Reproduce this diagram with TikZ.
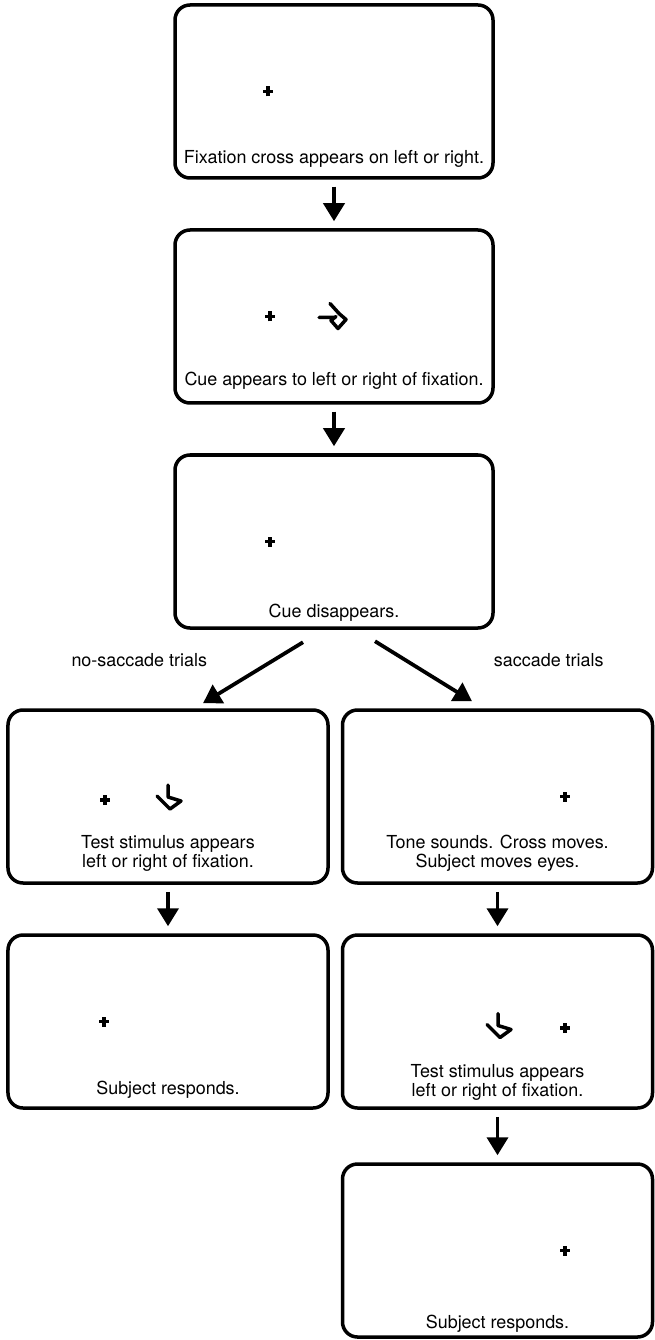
\documentclass[tikz,border=0pt]{standalone}
\usepackage{fontspec}
\setmainfont{TeX Gyre Heros}
\usepackage{tikz}
\usetikzlibrary{shapes,arrows,arrows.meta,positioning}
\tikzstyle{line} = [draw, line width=0.075cm, -{Triangle[width=0.42cm, length=0.36cm]}]
\tikzstyle{screen} = [rectangle, draw, rounded corners=0.3cm, line width=0.07cm, minimum width=6.36cm, minimum height=3.46cm, node distance=4.5cm]
\tikzstyle{caption} = [anchor=south, inner sep=0pt, align=center, font=\fontsize{10.2}{10.7}\selectfont]
\tikzstyle{tag} = [inner sep=0pt, font=\fontsize{10.2}{10.7}\selectfont]
\tikzstyle{fixcross} = [draw, line width=0.065cm]
\tikzstyle{glyph} = [draw, line width=0.07cm, line join=round, line cap=round]
% fixation cross at a named coordinate
\newcommand{\fixmark}[1]{\draw [fixcross] ([xshift=-0.1cm]#1) -- ([xshift=0.1cm]#1) ([yshift=-0.1cm]#1) -- ([yshift=0.1cm]#1);}
% test stimulus
\newcommand{\stimb}[1]{\draw [glyph, shift={(#1)}, x=0.02cm, y=-0.02cm] (-1,-13) -- (-1,-1) -- (12,3) -- (1,11) -- (-12,-2);}

\begin{document}
\begin{tikzpicture}
		\useasboundingbox (0,0) rectangle (13.08,-26.8);
		\node [screen] (fix) at (6.68,-1.83) {};
		\node [screen, below of=fix] (cue) {};
		\node [screen, below of=cue] (gone) {};
		
		\node [screen, below of=gone, node distance=5.1cm, xshift=-3.32cm, minimum width=6.4cm] (ns_test) {};
		\node [screen, right of=ns_test, node distance=6.59cm, minimum width=6.2cm] (s_tone) {};
		\node [screen, below of=ns_test, minimum width=6.4cm] (ns_resp) {};
		\node [screen, below of=s_tone, minimum width=6.2cm] (s_test) {};
		\node [screen, below of=s_test, node distance=4.58cm, minimum width=6.2cm] (s_resp) {};
		
		\node [caption] at ([yshift=0.24cm]fix.south) {Fixation cross appears on left or right.};
		\node [caption] at ([yshift=0.3cm]cue.south) {Cue appears to left or right of fixation.};
		\node [caption] at ([yshift=0.16cm]gone.south) {Cue disappears.};
		\node [caption] at ([yshift=0.26cm]ns_test.south) {Test stimulus appears\\left or right of fixation.};
		\node [caption] at ([yshift=0.26cm]s_tone.south) {Tone sounds. Cross moves.\\Subject moves eyes.};
		\node [caption] at ([yshift=0.22cm]ns_resp.south) {Subject responds.};
		\node [caption] at ([yshift=0.18cm]s_test.south) {Test stimulus appears\\left or right of fixation.};
		\node [caption] at ([yshift=0.12cm]s_resp.south) {Subject responds.};
		
		\coordinate (fix_x) at ([xshift=-1.32cm]fix.center);
		\coordinate (cue_x) at ([xshift=-1.28cm]cue.center);
		\coordinate (gone_x) at ([xshift=-1.28cm]gone.center);
		\coordinate (ns_test_x) at ([xshift=-1.26cm, yshift=-0.07cm]ns_test.center);
		\coordinate (s_tone_x) at ([xshift=1.35cm]s_tone.center);
		\coordinate (ns_resp_x) at ([xshift=-1.28cm]ns_resp.center);
		\coordinate (s_test_x) at ([xshift=1.35cm, yshift=-0.13cm]s_test.center);
		\coordinate (s_resp_x) at ([xshift=1.35cm]s_resp.center);
		\fixmark{fix_x}
		\fixmark{cue_x}
		\fixmark{gone_x}
		\fixmark{ns_test_x}
		\fixmark{s_tone_x}
		\fixmark{ns_resp_x}
		\fixmark{s_test_x}
		\fixmark{s_resp_x}
		
		\coordinate (ns_test_b) at ([xshift=0.02cm, yshift=-0.03cm]ns_test.center);
		\coordinate (s_test_b) at ([xshift=0.03cm, yshift=-0.1cm]s_test.center);
		\stimb{ns_test_b}
		\stimb{s_test_b}
		\draw [glyph, shift={(cue.center)}, x=0.02cm, y=-0.02cm] (-4,-13) -- (5,-3) -- (12,3) -- (4,12) -- (-3,4) -- (2,0) (-15,1) -- (1,1);
		
		\path [line, shorten <=0.14cm, shorten >=0.14cm] (fix.south) to (cue.north);
		\path [line, shorten <=0.14cm, shorten >=0.14cm] (cue.south) to (gone.north);
		\path [line] ([xshift=-0.62cm, yshift=-0.25cm]gone.south) to ([xshift=0.7cm, yshift=0.1cm]ns_test.north);
		\path [line] ([xshift=0.82cm, yshift=-0.23cm]gone.south) to ([xshift=-0.51cm, yshift=0.14cm]s_tone.north);
		\path [line, shorten <=0.14cm, shorten >=0.14cm] (ns_test.south) to (ns_resp.north);
		\path [line, shorten <=0.14cm, shorten >=0.14cm] (s_tone.south) to (s_test.north);
		\path [line, shorten <=0.14cm, shorten >=0.14cm] (s_test.south) to (s_resp.north);
		
		\node [tag] at ([xshift=-0.68cm, yshift=-0.61cm]gone.south west) {no-saccade trials};
		\node [tag] at ([xshift=1.08cm, yshift=-0.61cm]gone.south east) {saccade trials};
		\end{tikzpicture}
\end{document}
